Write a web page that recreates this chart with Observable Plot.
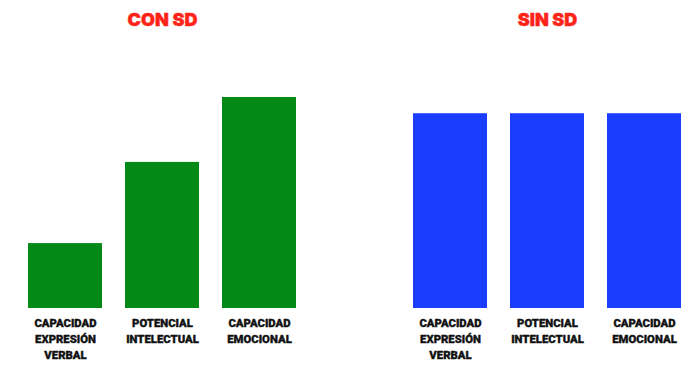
<!DOCTYPE html>
<html>
<head>
<meta charset="utf-8">
<script src="https://cdn.jsdelivr.net/npm/d3@7"></script>
<script src="https://cdn.jsdelivr.net/npm/@observablehq/plot@0.6"></script>
<style>
  html, body { margin: 0; padding: 0; background: #fff; }
  svg { display: block; }
</style>
</head>
<body>
<div id="chart"></div>
<script>
const groups = ["CON SD", "SIN SD"];
const categories = ["CAPACIDAD\nEXPRESIÓN\nVERBAL", "POTENCIAL\nINTELECTUAL", "CAPACIDAD\nEMOCIONAL"];
const conSD = [1, 2.25, 3.25];
const sinSD = [3, 3, 3];
const groupColors = ["#038a16", "#1b3dfd"];

const data = [
  ...categories.map((c, i) => ({group: groups[0], category: c, value: conSD[i]})),
  ...categories.map((c, i) => ({group: groups[1], category: c, value: sinSD[i]}))
];

const chart = Plot.plot({
  width: 699,
  height: 378,
  marginLeft: 28,
  marginRight: 18,
  marginTop: 97,
  marginBottom: 70,
  fx: {domain: groups, paddingInner: 0.304, paddingOuter: 0, axis: null},
  x: {domain: categories, paddingInner: 0.24, paddingOuter: 0, axis: null},
  y: {domain: [0, 3.25], axis: null},
  color: {domain: groups, range: groupColors},
  marks: [
    Plot.barY(data, {fx: "group", x: "category", y: "value", fill: "group"}),
    Plot.text(data, {
      fx: "group", x: "category", y: 0, text: "category",
      lineAnchor: "top", dy: 7, lineHeight: 1.42,
      fontFamily: "Roboto", fontWeight: 900, fontSize: 11.3, fill: "#111",
      stroke: "#111", strokeWidth: 0.35
    }),
    Plot.text(groups, {
      fx: d => d, text: d => d, frameAnchor: "top", dy: -84,
      fontFamily: "Inter", fontWeight: 900, fontSize: 18, fill: "#ff2418",
      stroke: "#ff2418", strokeWidth: 0.4
    })
  ]
});
document.getElementById("chart").appendChild(chart);
</script>
</body>
</html>
